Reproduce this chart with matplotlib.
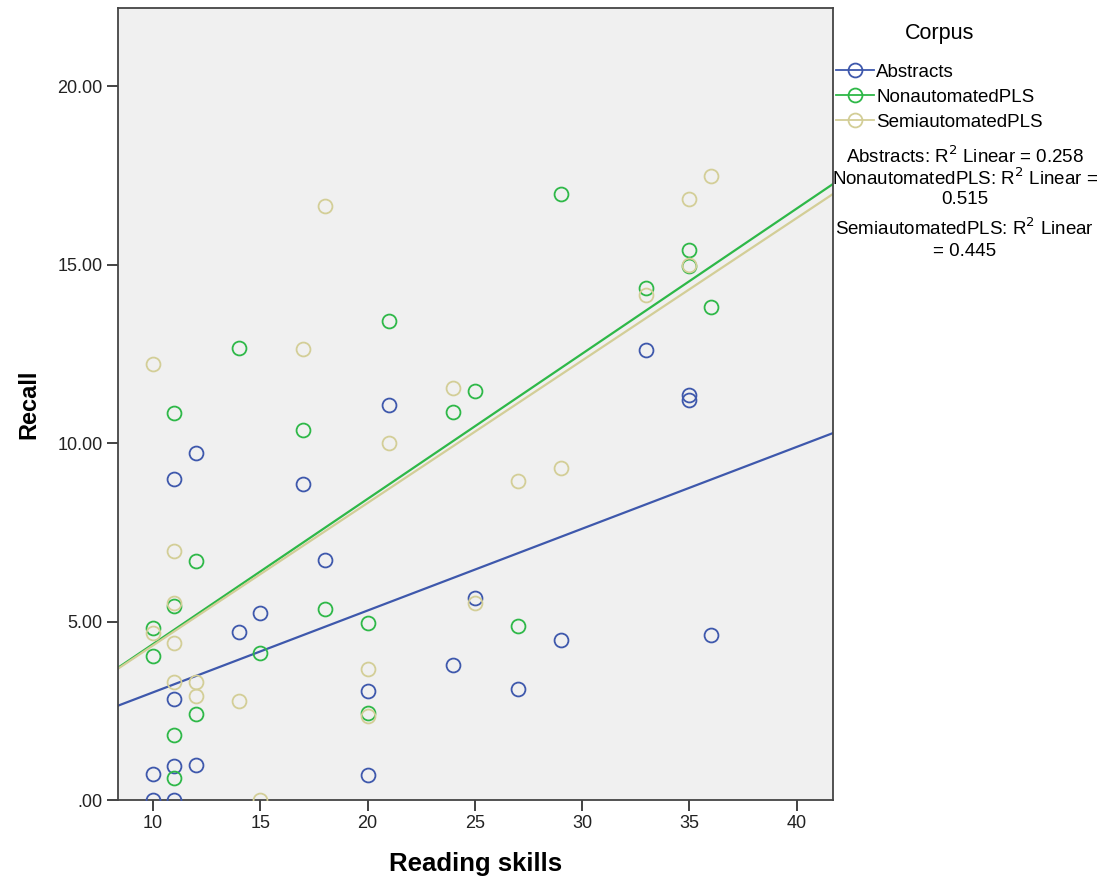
import numpy as np
import matplotlib.pyplot as plt
from matplotlib.lines import Line2D

plt.rcParams['font.family'] = ['Liberation Sans', 'DejaVu Sans']

# reading skills (x) and recall (y) for each corpus
abs_x = [10, 10, 11, 11, 12, 11, 11, 12, 14, 15, 17, 18, 20, 20, 21, 24, 25, 27, 29, 33, 35, 35, 36]
abs_y = [0.73, 0.0, 0.0, 0.95, 0.98, 2.84, 8.99, 9.72, 4.72, 5.25, 8.85, 6.74, 3.06, 0.70, 11.07,
         3.79, 5.65, 3.12, 4.49, 12.61, 11.35, 11.21, 4.63]

non_x = [10, 10, 11, 11, 11, 11, 12, 12, 14, 15, 17, 18, 20, 20, 21, 24, 25, 27, 29, 33, 35, 35, 36]
non_y = [4.83, 4.04, 10.84, 5.45, 1.83, 0.62, 6.71, 2.42, 12.67, 4.13, 10.37, 5.34, 4.97, 2.44, 13.43,
         10.87, 11.46, 4.89, 17.0, 14.35, 15.42, 14.97, 13.82]

semi_x = [10, 10, 11, 11, 11, 11, 12, 12, 14, 15, 17, 18, 20, 20, 21, 24, 25, 27, 29, 33, 35, 35, 36]
semi_y = [12.22, 4.69, 6.99, 5.51, 4.41, 3.31, 3.31, 2.92, 2.78, 0.0, 12.64, 16.66, 3.68, 2.36, 10.0,
          11.54, 5.51, 8.93, 9.30, 14.16, 16.85, 15.0, 17.5]

names = ['Abstracts', 'NonautomatedPLS', 'SemiautomatedPLS']
r2 = ['0.258', '0.515', '0.445']
colors = ['#3E58AC', '#2EB848', '#D3CE97']
yticks = [0, 5, 10, 15, 20]
ytick_labels = ['.00', '5.00', '10.00', '15.00', '20.00']

fig = plt.figure(figsize=(11.1, 8.8), dpi=100)
ax = fig.add_axes([0.1063, 0.0909, 0.6442, 0.9])
ax.set_facecolor('#f0f0f0')

xlim = (8.37, 41.7)
series = [(abs_x, abs_y), (non_x, non_y), (semi_x, semi_y)]
for (xs, ys), c in zip(series, colors):
    ax.plot(xs, ys, 'o', mfc='none', mec=c, ms=10, mew=1.3, zorder=3)
    # linear fit line across the whole axis
    b, a = np.polyfit(xs, ys, 1)
    xx = np.array(xlim)
    ax.plot(xx, a + b * xx, color=c, lw=1.6, zorder=2)

ax.set_xlim(*xlim)
ax.set_ylim(0, 22.2)
ax.set_xticks([10, 15, 20, 25, 30, 35, 40])
ax.set_yticks(yticks)
ax.set_yticklabels(ytick_labels)
ax.tick_params(labelsize=13, length=8, width=1.2, direction='out', colors='#222222', pad=3)
for s in ax.spines.values():
    s.set_color('#444444')
    s.set_linewidth(1.3)

ax.set_xlabel('Reading skills', fontsize=18.5, fontweight='bold', labelpad=14)
ax.set_ylabel('Recall', fontsize=17, fontweight='bold', labelpad=12)

handles = [Line2D([0], [0], color=c, lw=1.3, marker='o', mfc='none', mec=c, ms=10, mew=1.3)
           for c in colors]
leg = fig.legend(handles, names, title='Corpus', loc='upper left',
                 bbox_to_anchor=(0.7465, 0.982), frameon=False, fontsize=13.5,
                 title_fontsize=15.5, handlelength=2.0, handletextpad=0.15,
                 labelspacing=0.42, borderaxespad=0)
leg._legend_box.sep = 14

# R squared notes, one text per line as laid out in the reference
r2_lines = ['Abstracts: R$^2$ Linear = ' + r2[0],
            names[1] + ': R$^2$ Linear =',
            r2[1],
            names[2] + ': R$^2$ Linear',
            '= ' + r2[2]]
r2_y = [156, 178, 199, 228, 251]
for t, yp in zip(r2_lines, r2_y):
    fig.text(0.869, 1 - yp / 880, t, ha='center', va='center', fontsize=13.5)

fig.savefig('out.png', dpi=100, facecolor='white')
